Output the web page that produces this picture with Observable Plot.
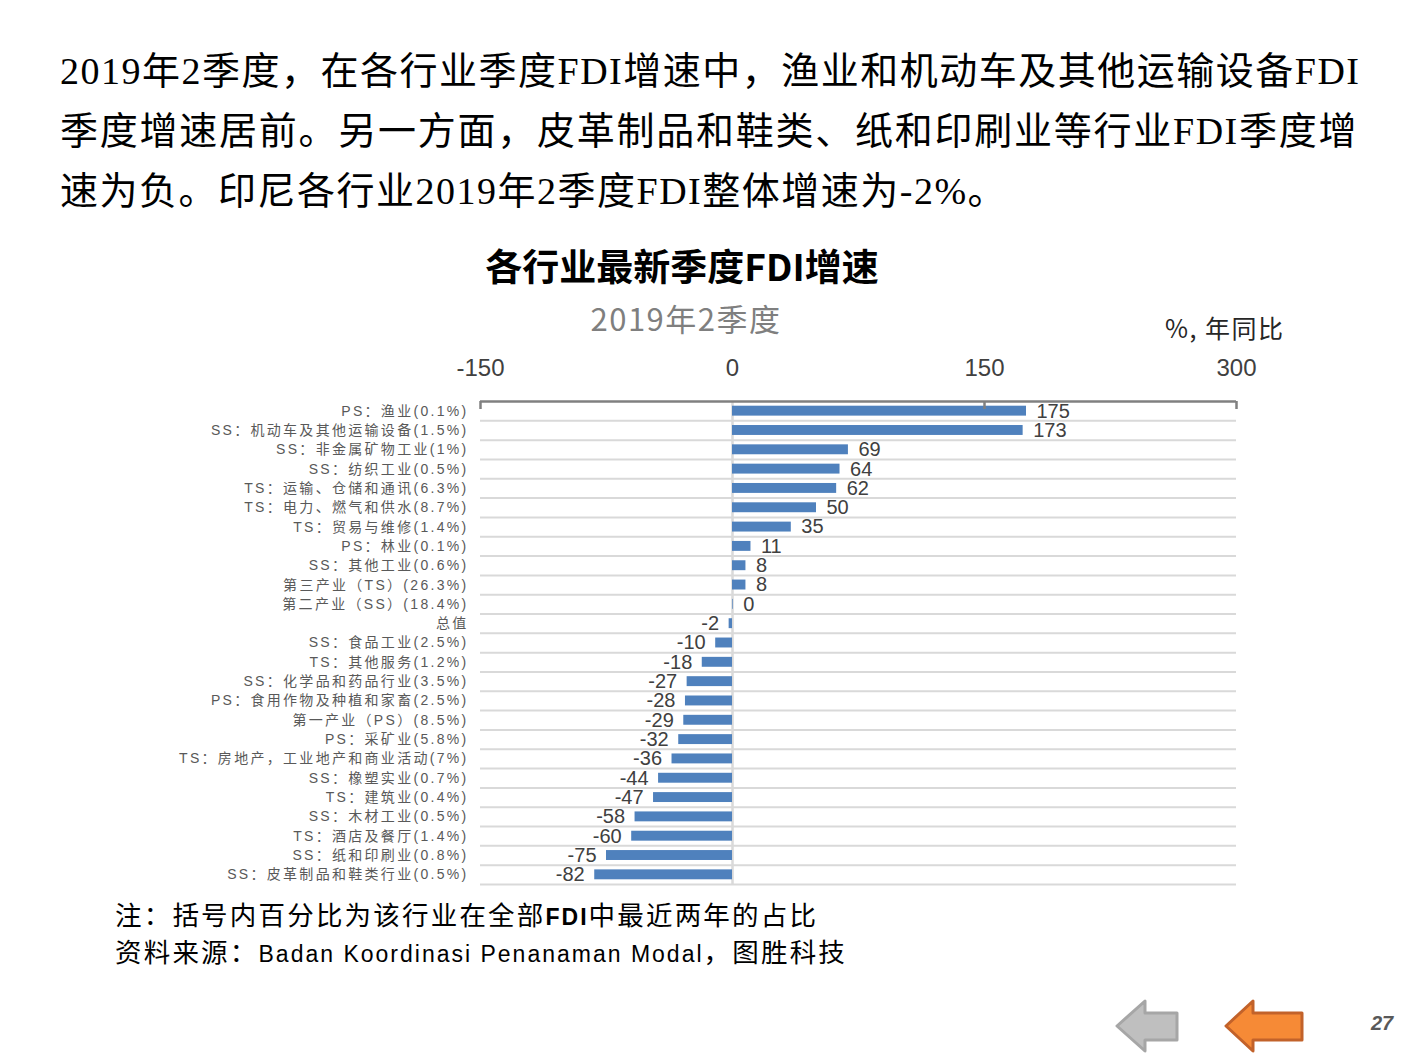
<!DOCTYPE html>
<html>
<head>
<meta charset="utf-8">
<script src="https://cdn.jsdelivr.net/npm/d3@7"></script>
<script src="https://cdn.jsdelivr.net/npm/@observablehq/plot@0.6"></script>
<style>
  html, body { margin: 0; padding: 0; background: #fff; }
  body { width: 1411px; height: 1058px; position: relative; overflow: hidden; font-family: "Noto Sans CJK SC", "Liberation Sans", sans-serif; }
  .abs { position: absolute; white-space: nowrap; }
  .head { left: 60px; width: 1298px; font-size: 38px; line-height: 60px; color: #000; white-space: nowrap; letter-spacing: 1.5px; }
  .just { text-align: justify; text-align-last: justify; }
  .lat { font-family: "Liberation Serif", serif; }
  #title { left: 382px; width: 600px; text-align: center; top: 242px; font-size: 37px; font-weight: bold; line-height: 46px; color: #000; }
  #subtitle { left: 486px; width: 400px; text-align: center; top: 298px; font-size: 31px; line-height: 40px; color: #7f7f7f; letter-spacing: 1.5px; }
  #unit { left: 1165px; top: 311px; font-size: 25px; line-height: 32px; color: #262626; letter-spacing: 1.5px; }
  #chart { position: absolute; left: 0; top: 340px; }
  #chart svg { display: block; }
  .c g[aria-label="y-axis tick label"] { letter-spacing: 2.3px; }
  .foot { left: 115px; font-size: 26.5px; line-height: 32px; letter-spacing: 2.2px; color: #000; }
  .foot .l { font-family: "Liberation Sans", sans-serif; font-size: 23px; letter-spacing: 2px; }
  #page { left: 1371px; top: 1012px; font-size: 20px; font-weight: bold; font-style: italic; color: #595959; font-family: "Liberation Sans", sans-serif; }
</style>
</head>
<body>
<div class="abs head just" style="top:38px;"><span class="lat">2019</span>年<span class="lat">2</span>季度，在各行业季度<span class="lat">FDI</span>增速中，渔业和机动车及其他运输设备<span class="lat">FDI</span></div>
<div class="abs head just" style="top:98px;">季度增速居前。另一方面，皮革制品和鞋类、纸和印刷业等行业<span class="lat">FDI</span>季度增</div>
<div class="abs head" style="top:158px;">速为负。印尼各行业<span class="lat">2019</span>年<span class="lat">2</span>季度<span class="lat">FDI</span>整体增速为<span class="lat">-2%</span>。</div>

<div id="title" class="abs">各行业最新季度FDI增速</div>
<div id="subtitle" class="abs">2019年2季度</div>
<div id="unit" class="abs">%, 年同比</div>
<div id="chart"></div>

<div class="abs foot" style="top:898px;">注：括号内百分比为该行业在全部<span class="l" style="font-weight:bold;">FDI</span>中最近两年的占比</div>
<div class="abs foot" style="top:935px;">资料来源：<span class="l">Badan Koordinasi Penanaman Modal</span>，图胜科技</div>

<svg class="abs" style="left:0;top:0;" width="1411" height="1058">
  <path d="M1117,1026 L1145,1001 L1145,1013 L1177,1013 L1177,1040 L1145,1040 L1145,1051 Z" fill="#bfbfbf" stroke="#a6a6a6" stroke-width="3" stroke-linejoin="round"/>
  <path d="M1226,1026 L1253,1001 L1253,1013 L1302,1013 L1302,1040 L1253,1040 L1253,1051 Z" fill="#f68a36" stroke="#c2622a" stroke-width="3" stroke-linejoin="round"/>
</svg>
<div id="page" class="abs">27</div>

<script>
const categories = [
  "PS：渔业(0.1%)",
  "SS：机动车及其他运输设备(1.5%)",
  "SS：非金属矿物工业(1%)",
  "SS：纺织工业(0.5%)",
  "TS：运输、仓储和通讯(6.3%)",
  "TS：电力、燃气和供水(8.7%)",
  "TS：贸易与维修(1.4%)",
  "PS：林业(0.1%)",
  "SS：其他工业(0.6%)",
  "第三产业（TS）(26.3%)",
  "第二产业（SS）(18.4%)",
  "总值",
  "SS：食品工业(2.5%)",
  "TS：其他服务(1.2%)",
  "SS：化学品和药品行业(3.5%)",
  "PS：食用作物及种植和家畜(2.5%)",
  "第一产业（PS）(8.5%)",
  "PS：采矿业(5.8%)",
  "TS：房地产，工业地产和商业活动(7%)",
  "SS：橡塑实业(0.7%)",
  "TS：建筑业(0.4%)",
  "SS：木材工业(0.5%)",
  "TS：酒店及餐厅(1.4%)",
  "SS：纸和印刷业(0.8%)",
  "SS：皮革制品和鞋类行业(0.5%)"
];
const values = [175, 173, 69, 64, 62, 50, 35, 11, 8, 8, 0.4, -2, -10, -18, -27, -28, -29, -32, -36, -44, -47, -58, -60, -75, -82];
const xTickValues = [-150, 0, 150, 300];
const xTickMarks = [-150, 150, 300];

const data = categories.map((c, i) => ({category: c, value: values[i]}));

const W = 1300, H = 550, mT = 61, mB = 6, mL = 480, mR = 64;
const step = (H - mT - mB) / categories.length;

const plot = Plot.plot({
  width: W,
  height: H,
  marginTop: mT,
  marginBottom: mB,
  marginLeft: mL,
  marginRight: mR,
  className: "c",
  style: {background: "transparent", fontFamily: "'Liberation Sans', 'Noto Sans CJK SC', sans-serif", overflow: "visible"},
  x: {domain: [-150, 300], axis: null},
  y: {domain: categories, padding: 0, round: false, axis: null},
  marks: [
    Plot.ruleY(categories, {y: d => d, dy: step / 2, stroke: "#d9d9d9", strokeWidth: 2}),
    Plot.ruleX([0], {stroke: "#d9d9d9", strokeWidth: 2.5}),
    Plot.barX(data, {x: "value", y: "category", fill: "#4f81bd", insetTop: 4.7, insetBottom: 4.7}),
    Plot.ruleY([categories[0]], {y: d => d, dy: -step / 2, stroke: "#808080", strokeWidth: 2.5}),
    Plot.tickX(xTickMarks, {x: d => d, y: () => categories[0], stroke: "#808080", strokeWidth: 2.5, insetBottom: step - 8}),
    Plot.axisX({anchor: "top", ticks: xTickValues, tickSize: 0, tickPadding: 26, fontSize: 24, fill: "#404040", label: null, tickFormat: d => String(d)}),
    Plot.axisY({anchor: "left", tickSize: 0, tickPadding: 12, fontSize: 14, fill: "#595959", label: null, fontFamily: "'Liberation Sans', 'Noto Sans CJK SC', sans-serif"}),
    Plot.text(data.filter(d => d.value >= 0), {x: "value", y: "category", text: d => String(Math.round(d.value)), textAnchor: "start", dx: 10, fontSize: 20, fill: "#404040"}),
    Plot.text(data.filter(d => d.value < 0), {x: "value", y: "category", text: d => String(Math.round(d.value)), textAnchor: "end", dx: -10, fontSize: 20, fill: "#404040"})
  ]
});
document.getElementById("chart").appendChild(plot);
</script>
</body>
</html>
